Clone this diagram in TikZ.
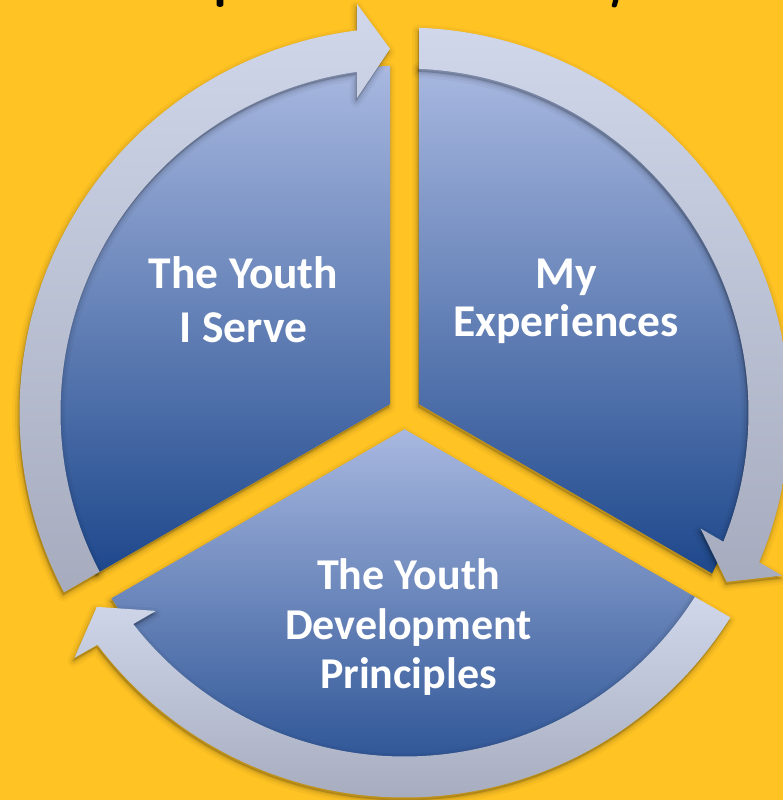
\documentclass[tikz,border=0pt]{standalone}
\usepackage{fontspec}
\setmainfont{Carlito}
\definecolor{bg}{HTML}{FFC324}
\definecolor{wtop}{RGB}{168,184,224}
\definecolor{wbot}{RGB}{30,72,140}
\definecolor{rtop}{RGB}{208,215,234}
\definecolor{rbot}{RGB}{166,172,190}
\newcommand\wedgepath[1]{({150+#1}:16.74) -- ({92.39+#1}:347) arc[start angle={92.39+#1}, end angle={207.61+#1}, radius=347] -- cycle}
\newcommand\arrowpath[1]{({207.58+#1}:344) -- ({207.84+#1}:385) arc[start angle={207.84+#1}, end angle={97.11+#1}, radius=385] -- ({96.63+#1}:411.25) -- ({92.28+#1}:364) -- ({98.59+#1}:318.07) -- ({97.94+#1}:344) arc[start angle={97.94+#1}, end angle={207.58+#1}, radius=344] -- cycle}
\newcommand\castshadow[1]{%
  \path[draw=black, draw opacity=0.035, line width=12, line join=round, shift={(-1,-3)}] #1;
  \path[draw=black, draw opacity=0.05, line width=7, line join=round, shift={(-1,-3)}] #1;
  \path[draw=black, draw opacity=0.08, line width=3, line join=round, shift={(-1,-3)}] #1;
  \fill[black, fill opacity=0.18, shift={(-1,-3)}] #1;}
\begin{document}
\begin{tikzpicture}[x=1pt,y=1pt,
  wedgefill/.style={top color=wtop, bottom color=wbot, draw=none},
  ringfill/.style={top color=rtop, bottom color=rbot, draw=none},
  lbl/.style={text=white, font=\bfseries\fontsize{45.5}{55}\selectfont, anchor=base, inner sep=0pt},
  lblsmall/.style={lbl, font=\bfseries\fontsize{44}{53}\selectfont}
]
\useasboundingbox (-404.5,-387.5) rectangle (378.5,412.5);
\clip (-404.5,-387.5) rectangle (378.5,412.5);
\fill[bg] (-404.5,-387.5) rectangle (378.5,412.5);
% fragments of the cut-off title
\fill[black] (-187.8,416) -- (-187.8,407.5) to[out=-90,in=-90] (-181.2,407.5) -- (-181.2,416) -- cycle;
\fill[black] (209.5,416) -- (207.2,406.5) to[out=-80,in=-100] (212.2,406.5) -- (215.0,416) -- cycle;
% wedges
\foreach \o in {0,-120,120} {\castshadow{\wedgepath{\o}}}
\foreach \o in {0,-120,120} {\shade[wedgefill] \wedgepath{\o};}
% ring arrows
\foreach \o in {0,-120,120} {\castshadow{\arrowpath{\o}}}
\foreach \o in {0,-120,120} {\shade[ringfill] \arrowpath{\o};}
% labels
\node[lbl] (serve1) at (-161,123.5) {The Youth};
\node[lbl] (serve2) at (-161,70) {I Serve};
\node[lbl] (exp1) at (161.5,123.5) {My};
\node[lbl] (exp2) at (161.5,75.5) {Experiences};
\node[lblsmall] (ydp1) at (4,-176.5) {The Youth};
\node[lblsmall] (ydp2) at (4,-227) {Development};
\node[lblsmall] (ydp3) at (4,-276) {Principles};
\end{tikzpicture}
\end{document}
